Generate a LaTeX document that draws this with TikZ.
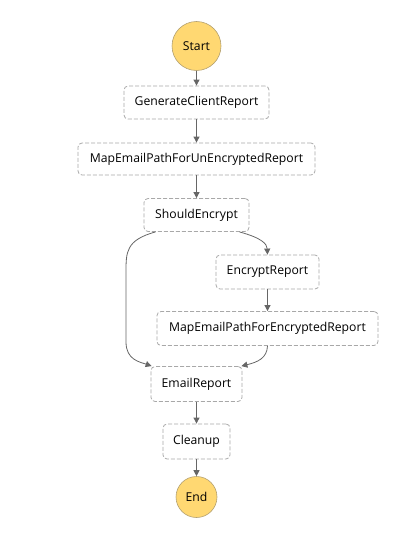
\documentclass[tikz,border=0pt]{standalone}
\usepackage{fontspec}
\setmainfont{Open Sans}
\usetikzlibrary{arrows.meta}
\definecolor{termfill}{HTML}{FFD872}
\definecolor{termline}{HTML}{B3A070}
\definecolor{boxline}{HTML}{A8A8A8}
\definecolor{edgecol}{HTML}{666666}
\tikzset{
  term/.style={circle, fill=termfill, draw=termline, line width=0.6pt, inner sep=0pt, font=\fontsize{12.2}{14}\selectfont, text=black},
  task/.style={rectangle, rounded corners=4pt, draw=boxline, line width=0.8pt, dash pattern=on 4pt off 2pt, fill=white, inner sep=0pt, minimum height=34pt, font=\fontsize{12.2}{14}\selectfont, text=black},
  edge/.style={draw=edgecol, line width=0.8pt, -{Triangle[length=6pt,width=6pt]}}
}
\begin{document}
\begin{tikzpicture}[x=1pt,y=-1pt]
\useasboundingbox (0,0) rectangle (409,543);
\node[term, minimum size=49pt] (start) at (196.5,46) {Start};
\node[task, minimum width=145pt, minimum height=33pt] (gen) at (196.5,102.5) {GenerateClientReport};
\node[task, minimum width=237pt, minimum height=32pt] (mapun) at (196.5,159) {MapEmailPathForUnEncryptedReport};
\node[task, minimum width=105pt, minimum height=33pt] (should) at (196.5,215) {ShouldEncrypt};
\node[task, minimum width=103pt] (enc) at (267.5,272) {EncryptReport};
\node[task, minimum width=221pt] (mapenc) at (267.5,328.5) {MapEmailPathForEncryptedReport};
\node[task, minimum width=91pt, minimum height=35pt] (email) at (196.5,384) {EmailReport};
\node[task, minimum width=67pt, minimum height=35pt] (clean) at (196.5,441.5) {Cleanup};
\node[term, minimum size=41pt] (end) at (196.5,497) {End};

\draw[edge] (start) -- (gen);
\draw[edge] (gen) -- (mapun);
\draw[edge] (mapun) -- (should);
\draw[edge] ([xshift=12pt]should.south west) .. controls (126,240) and (126,252) .. (126,272)
  -- (126,342) .. controls (126,360) and (140,362) .. ([xshift=1pt]email.north west);
\draw[edge] ([xshift=-10pt]should.south east) .. controls (262,238) and (267,244) .. (enc.north);
\draw[edge] (enc) -- (mapenc);
\draw[edge] (mapenc.south) .. controls (267,358) and (258,362) .. ([xshift=-1pt]email.north east);
\draw[edge] (email) -- (clean);
\draw[edge] (clean) -- (end);
\end{tikzpicture}
\end{document}
